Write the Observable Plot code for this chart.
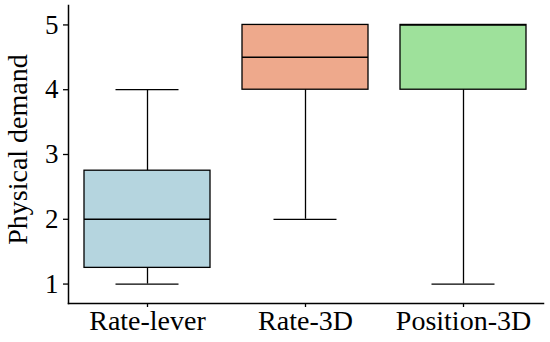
<!DOCTYPE html>
<html>
<head>
<meta charset="utf-8">
<script src="https://cdn.jsdelivr.net/npm/d3@7"></script>
<script src="https://cdn.jsdelivr.net/npm/@observablehq/plot@0.6"></script>
<style>
  html, body { margin: 0; padding: 0; background: #fff; }
  #chart svg { display: block; }
  #chart svg, #chart svg text { font-family: "Liberation Serif", "Times New Roman", serif !important; }
</style>
</head>
<body>
<div id="chart"></div>
<script>
const categories = ["Rate-lever", "Rate-3D", "Position-3D"];
const mins    = [1, 2, 1];
const q1s     = [1.25, 4, 4];
const medians = [2, 4.5, 5];
const q3s     = [2.75, 5, 5];
const maxs    = [4, 5, 5];
const fills   = ["#b5d5df", "#eea98c", "#9ee19b"];
const yTicks  = [1, 2, 3, 4, 5];
const yLabel  = "Physical demand";

const rows = categories.map((c, i) => ({
  cat: c, min: mins[i], q1: q1s[i], med: medians[i], q3: q3s[i], max: maxs[i], fill: fills[i]
}));

const chart = Plot.plot({
  width: 550,
  height: 342,
  marginLeft: 68,
  marginRight: 7,
  marginTop: 5,
  marginBottom: 39,
  style: { fontSize: "27px", color: "#000", background: "#fff" },
  x: { domain: categories, paddingInner: 0.2, paddingOuter: 0.1, label: null },
  y: { domain: [0.7, 5.3], label: null },
  marks: [
    Plot.axisY({ ticks: yTicks, tickSize: 5, tickPadding: 5, tickFormat: d3.format("d"),
      label: null, fontSize: 27, strokeWidth: 1.3 }),
    Plot.axisX({ tickSize: 4, tickPadding: 3, label: null, fontSize: 28, strokeWidth: 1.3 }),
    Plot.frame({ anchor: "left", stroke: "#000", strokeWidth: 1.5 }),
    Plot.frame({ anchor: "bottom", stroke: "#000", strokeWidth: 1.5 }),
    // whiskers
    Plot.ruleX(rows, { x: "cat", y1: "min", y2: "q1", stroke: "#000", strokeWidth: 1.3 }),
    Plot.ruleX(rows, { x: "cat", y1: "q3", y2: "max", stroke: "#000", strokeWidth: 1.3 }),
    Plot.tickY(rows, { x: "cat", y: "min", stroke: "#000", strokeWidth: 1.3, insetLeft: 31.5, insetRight: 31.5 }),
    Plot.tickY(rows, { x: "cat", y: "max", stroke: "#000", strokeWidth: 1.3, insetLeft: 31.5, insetRight: 31.5 }),
    // boxes
    Plot.barY(rows, { x: "cat", y1: "q1", y2: "q3", fill: "fill", stroke: "#000", strokeWidth: 1.3 }),
    Plot.tickY(rows, { x: "cat", y: "med", stroke: "#000", strokeWidth: 1.5 }),
    Plot.text([yLabel], { frameAnchor: "left", dx: -50, dy: -5, rotate: -90, textAnchor: "middle",
      fontSize: 28, text: d => d, fill: "#000" })
  ]
});

document.getElementById("chart").appendChild(chart);
</script>
</body>
</html>
